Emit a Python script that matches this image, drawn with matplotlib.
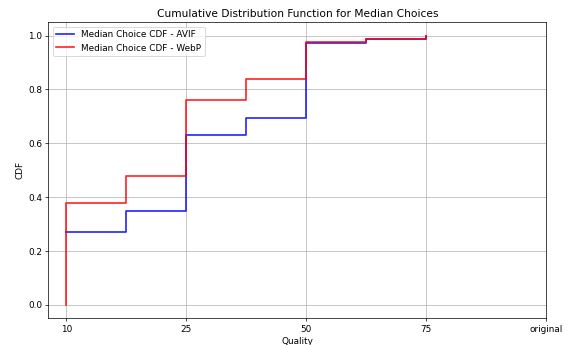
import matplotlib
matplotlib.use("Agg")
import matplotlib.pyplot as plt

# quality levels (positions on the axis) and tick labels
avif_pos = [0, 0.5, 1, 1.5, 2, 2.5, 3]
webp_pos = [0, 0, 0.5, 1, 1.5, 2, 2.5, 3]
tick_pos = [0, 1, 2, 3, 4]
tick_labels = ["10", "25", "50", "75", "original"]

# cumulative share of median choices
cdf_avif = [0.270, 0.348, 0.631, 0.695, 0.972, 0.986, 1.0]
cdf_webp = [0.0, 0.378, 0.478, 0.762, 0.840, 0.975, 0.988, 1.0]

fig, ax = plt.subplots(figsize=(569 / 64, 345 / 64), dpi=64)

ax.step(avif_pos, cdf_avif, where="post", color="blue", linewidth=1.9, alpha=0.85,
        label="Median Choice CDF - AVIF")
ax.step(webp_pos, cdf_webp, where="post", color="red", linewidth=1.9, alpha=0.85,
        label="Median Choice CDF - WebP")

ax.set_xticks(tick_pos)
ax.set_xticklabels(tick_labels)
ax.set_xlim(-0.15, 4)
ax.set_ylim(-0.05, 1.05)

ax.set_title("Cumulative Distribution Function for Median Choices")
ax.set_xlabel("Quality")
ax.set_ylabel("CDF")
ax.legend(loc="upper left")
ax.grid(True)

plt.subplots_adjust(left=0.085, right=0.96, top=0.936, bottom=0.077)
plt.savefig("out.png")
